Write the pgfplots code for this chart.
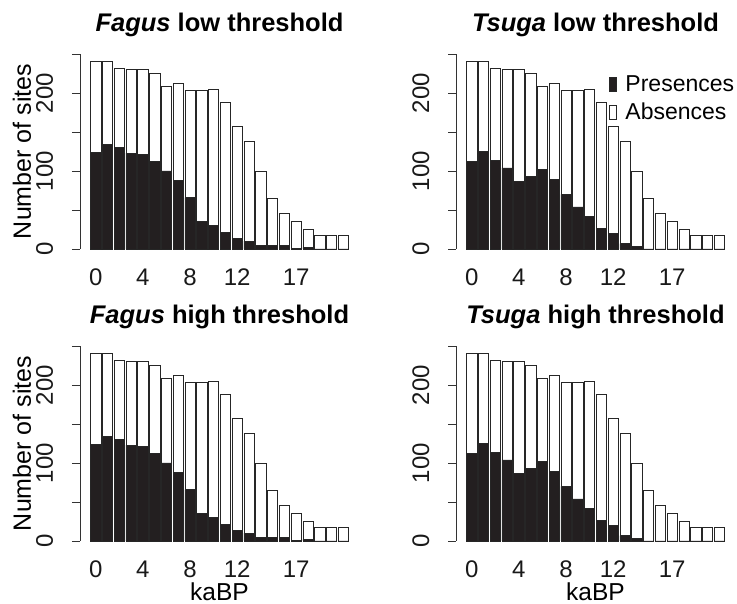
\documentclass[border=0pt]{standalone}
\usepackage{fontspec}
\setmainfont{Liberation Sans}
\usepackage{pgfplots}
\pgfplotsset{compat=1.18}
\usepackage{pgfplotstable}

% number of sites per 1-kyr bin: total and presences
\pgfplotstableread{
x total pres
0 241 124
1 241 134
2 232 130
3 230 123
4 230 121
5 225 112
6 209 100
7 212 88
8 204 66
9 204 35
10 205 30
11 188 21
12 158 14
13 138 10
14 100 5
15 65 5
16 46 5
17 36 1
18 25 2
19 18 0
20 18 0
21 17 0
}\fagus

\pgfplotstableread{
x total pres
0 241 112
1 241 125
2 232 114
3 230 104
4 230 87
5 225 93
6 209 102
7 212 89
8 204 70
9 204 54
10 205 42
11 188 26
12 158 20
13 138 7
14 100 3
15 65 0
16 46 0
17 36 0
18 25 0
19 18 0
20 18 0
21 17 0
}\tsuga

\definecolor{barblack}{HTML}{231F20}

\pgfplotsset{
  panel/.style={
    scale only axis, width=279pt, height=195pt,
    xmin=-1.33, xmax=22.33, ymin=0, ymax=250,
    axis y line*=left, axis x line*=bottom,
    x axis line style={draw=none},
    xtick={0,4,8,12,17}, xtick style={draw=none},
    ytick={0,50,...,250}, yticklabels={0,,100,,200,},
    tick align=outside, major tick length=8pt,
    y axis line style={line width=0.8pt, color=black!80},
    ytick style={line width=0.8pt, color=black!80},
    /pgf/number format/assume math mode=true,
    tick label style={font=\fontsize{24}{28}\selectfont, text=black!90},
    xticklabel style={anchor=base, yshift=-29pt},
    yticklabel style={rotate=90, anchor=base, yshift=19pt},
    every axis title shift=0pt,
    title style={at={(0.5,1)}, anchor=base, yshift=22pt,
      font=\fontsize{25.5}{30}\selectfont},
    every axis y label/.style={at={(axis description cs:-0.208,0.5)},
      rotate=90, anchor=center, font=\fontsize{25}{30}\selectfont},
    every axis x label/.style={at={(axis description cs:0.5,0)},
      anchor=base, yshift=-59.5pt, font=\fontsize{24.5}{29}\selectfont},
    clip=false,
  },
  totbar/.style={ybar, bar width=0.87, bar shift=0pt, fill=white,
    draw=black!85, line width=0.5pt},
  presbar/.style={ybar, bar width=0.87, bar shift=0pt, fill=barblack,
    draw=black!85, line width=0.5pt},
}

\begin{document}
\begin{tikzpicture}[x=1pt,y=1pt]
\useasboundingbox (0,0) rectangle (737,604);

\begin{axis}[panel, at={(80pt,355pt)}, anchor=south west,
  title={\textbf{\textit{Fagus} low threshold}}, ylabel={Number of sites}]
\addplot[totbar] table[x=x,y=total]{\fagus};
\addplot[presbar] table[x=x,y=pres]{\fagus};
\end{axis}

\begin{axis}[panel, at={(456pt,355pt)}, anchor=south west,
  title={\textbf{\textit{Tsuga} low threshold}},
  legend style={at={(0.548,0.90)}, anchor=north west, draw=none, fill=none,
    inner sep=0pt, row sep=6pt, font=\fontsize{23}{27}\selectfont,
    /tikz/every odd column/.append style={column sep=7pt}},
  legend cell align=left]
\addlegendimage{legend image code/.code={\draw[fill=barblack,draw=black!85] (0pt,-7pt) rectangle (7pt,7pt);}}
\addlegendentry{Presences}
\addlegendimage{legend image code/.code={\draw[fill=white,draw=black!85] (0pt,-7pt) rectangle (7pt,7pt);}}
\addlegendentry{Absences}
\addplot[totbar, forget plot] table[x=x,y=total]{\tsuga};
\addplot[presbar, forget plot] table[x=x,y=pres]{\tsuga};
\end{axis}

\begin{axis}[panel, at={(80pt,63pt)}, anchor=south west,
  title={\textbf{\textit{Fagus} high threshold}}, ylabel={Number of sites},
  xlabel={kaBP}]
\addplot[totbar] table[x=x,y=total]{\fagus};
\addplot[presbar] table[x=x,y=pres]{\fagus};
\end{axis}

\begin{axis}[panel, at={(456pt,63pt)}, anchor=south west,
  title={\textbf{\textit{Tsuga} high threshold}}, xlabel={kaBP}]
\addplot[totbar] table[x=x,y=total]{\tsuga};
\addplot[presbar] table[x=x,y=pres]{\tsuga};
\end{axis}
\end{tikzpicture}
\end{document}
